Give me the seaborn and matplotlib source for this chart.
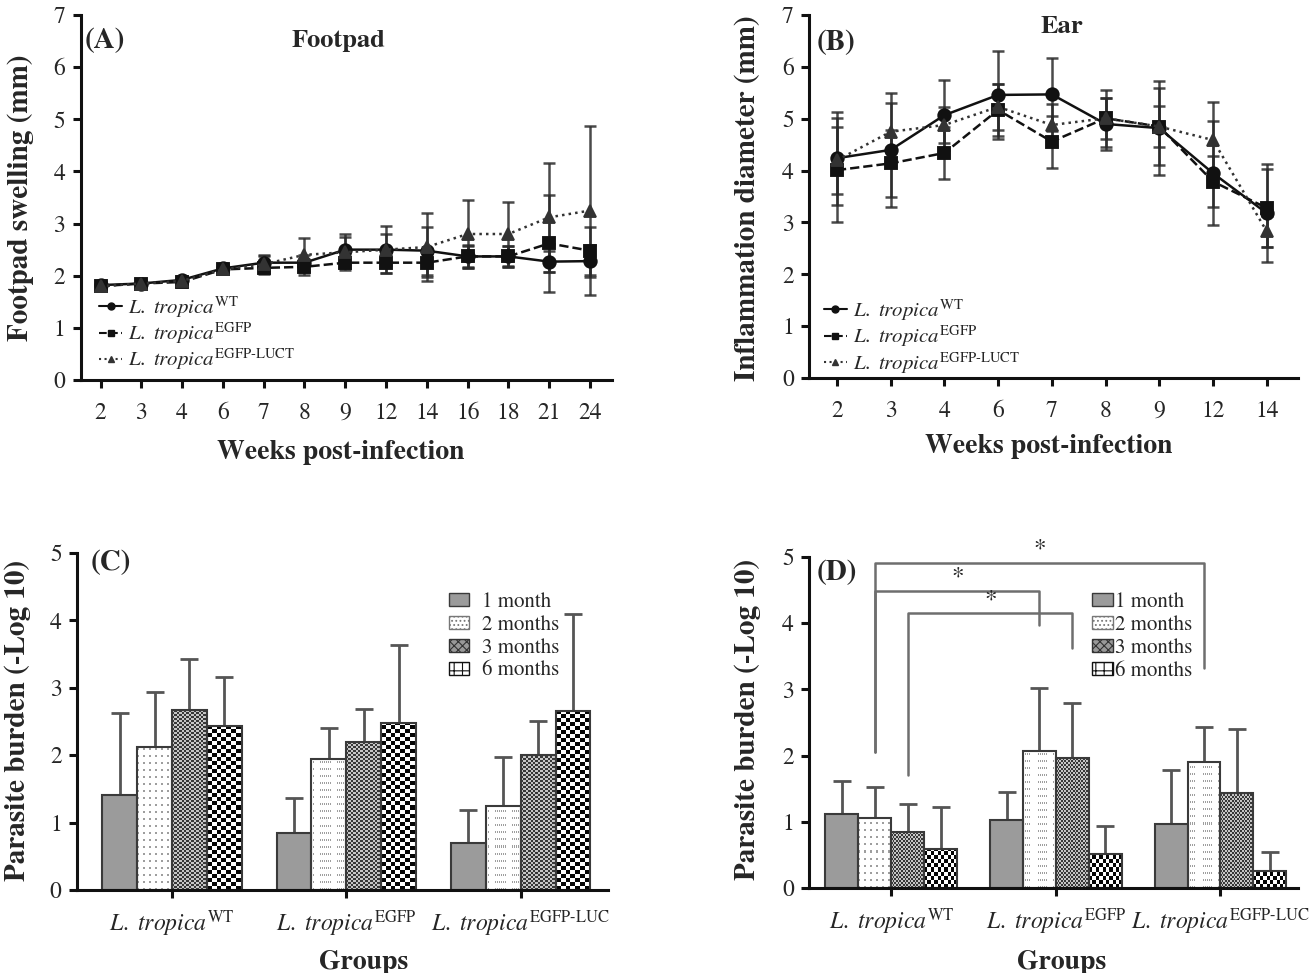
import numpy as np
import pandas as pd
import matplotlib
matplotlib.use('Agg')
import matplotlib.pyplot as plt
import seaborn as sns
from matplotlib.patches import Patch
from matplotlib.lines import Line2D

# ---------------- data ----------------
strains = [r'$\mathit{L.\ tropica}^{\mathrm{WT}}$',
           r'$\mathit{L.\ tropica}^{\mathrm{EGFP}}$',
           r'$\mathit{L.\ tropica}^{\mathrm{EGFP\text{-}LUCT}}$']

# (A) footpad swelling, mean and SD
weeks_a = [2, 3, 4, 6, 7, 8, 9, 12, 14, 16, 18, 21, 24]
fp_wt = [1.82, 1.85, 1.92, 2.14, 2.25, 2.25, 2.50, 2.50, 2.48, 2.37, 2.37, 2.27, 2.28]
fp_wt_sd = [0.06, 0.06, 0.07, 0.08, 0.15, 0.15, 0.30, 0.45, 0.46, 0.20, 0.20, 0.20, 0.30]
fp_egfp = [1.80, 1.85, 1.88, 2.12, 2.15, 2.17, 2.25, 2.25, 2.25, 2.37, 2.37, 2.62, 2.48]
fp_egfp_sd = [0.05, 0.05, 0.06, 0.07, 0.12, 0.15, 0.15, 0.20, 0.27, 0.22, 0.20, 0.93, 0.46]
fp_luct = [1.80, 1.85, 1.90, 2.12, 2.22, 2.40, 2.45, 2.50, 2.55, 2.80, 2.80, 3.12, 3.25]
fp_luct_sd = [0.05, 0.05, 0.06, 0.07, 0.15, 0.32, 0.30, 0.30, 0.65, 0.65, 0.62, 1.05, 1.62]

# (B) ear inflammation diameter
weeks_b = [2, 3, 4, 6, 7, 8, 9, 12, 14]
ear_wt = [4.24, 4.40, 5.07, 5.46, 5.47, 4.90, 4.82, 3.95, 3.18]
ear_wt_sd = [0.90, 1.10, 0.67, 0.85, 0.70, 0.50, 0.90, 1.00, 0.95]
ear_egfp = [4.01, 4.14, 4.34, 5.17, 4.56, 5.01, 4.85, 3.79, 3.28]
ear_egfp_sd = [1.00, 0.65, 0.50, 0.50, 0.50, 0.55, 0.75, 0.50, 0.75]
ear_luct = [4.20, 4.75, 4.88, 5.23, 4.88, 5.01, 4.85, 4.59, 2.83]
ear_luct_sd = [0.65, 0.55, 0.35, 0.45, 0.40, 0.40, 0.40, 0.74, 0.30]

# (C)/(D) parasite burden
groups = [r'$\mathit{L.\ tropica}^{\mathrm{WT}}$',
          r'$\mathit{L.\ tropica}^{\mathrm{EGFP}}$',
          r'$\mathit{L.\ tropica}^{\mathrm{EGFP\text{-}LUC}}$']
periods = ['1 month', '2 months', '3 months', '6 months']

c_vals = {'1 month': [1.41, 0.84, 0.69], '2 months': [2.12, 1.95, 1.25],
          '3 months': [2.67, 2.19, 2.00], '6 months': [2.44, 2.48, 2.65]}
c_err = {'1 month': [1.22, 0.52, 0.49], '2 months': [0.81, 0.46, 0.73],
         '3 months': [0.75, 0.49, 0.50], '6 months': [0.72, 1.15, 1.44]}

d_vals = {'1 month': [1.12, 1.03, 0.97], '2 months': [1.06, 2.07, 1.91],
          '3 months': [0.84, 1.96, 1.43], '6 months': [0.59, 0.52, 0.25]}
d_err = {'1 month': [0.50, 0.42, 0.81], '2 months': [0.47, 0.95, 0.52],
         '3 months': [0.43, 0.83, 0.97], '6 months': [0.63, 0.42, 0.29]}

# significance comparisons in (D): (group a, group b, period)
sig_pairs = [(0, 2, '2 months'), (0, 1, '2 months'), (0, 1, '3 months')]
sig_levels = [4.91, 4.49, 4.15]
sig_drops = [(2.06, 3.32), (2.06, 3.97), (1.71, 3.63)]

# ---------------- style ----------------
sns.set_style('ticks')
plt.rcParams['font.family'] = ['STIXGeneral', 'Liberation Serif', 'DejaVu Serif']
plt.rcParams['mathtext.fontset'] = 'stix'
plt.rcParams['hatch.linewidth'] = 0.8

line_colors = ['#111111', '#111111', '#333333']
err_color = '#2a2a2a'

fig = plt.figure(figsize=(13.14, 9.73), dpi=100)
axA = fig.add_axes([0.0613, 0.6095, 0.4045, 0.375])
axB = fig.add_axes([0.6157, 0.6115, 0.372, 0.373])
axC = fig.add_axes([0.0586, 0.0853, 0.404, 0.3464])
axD = fig.add_axes([0.6157, 0.0874, 0.372, 0.340])


def style_axes(ax):
    sns.despine(ax=ax)
    for s in ['left', 'bottom']:
        ax.spines[s].set_linewidth(2.2)
        ax.spines[s].set_color('#111111')
    ax.tick_params(direction='out', length=6, width=2.2, color='#111111',
                   labelsize=17, pad=5)
    ax.tick_params(axis='x', pad=10)


def line_panel(ax, weeks, means, sds, ylim):
    rows = []
    for s, m in zip(strains, means):
        for w, v in zip(weeks, m):
            rows.append({'week': w, 'strain': s, 'value': v})
    df = pd.DataFrame(rows)
    pos = np.arange(len(weeks))
    for m, sd in zip(means, sds):
        ax.errorbar(pos, m, yerr=sd, fmt='none', ecolor=err_color, elinewidth=1.8,
                    capsize=4.5, capthick=1.8, zorder=2, alpha=0.85)
    sns.pointplot(data=df, x='week', y='value', hue='strain', hue_order=strains,
                  palette=line_colors, markers=['o', 's', '^'],
                  linestyles=['-', '--', ':'], errorbar=None, markersize=9,
                  linewidth=1.8, legend=False, ax=ax)
    handles = [Line2D([], [], color=c, ls=ls, marker=mk, markersize=5, lw=1.5)
               for c, ls, mk in zip(line_colors, ['-', '--', ':'], ['o', 's', '^'])]
    ax.set_ylim(*ylim)
    ax.set_yticks(range(ylim[0], ylim[1] + 1))
    style_axes(ax)
    return handles


# (A)
hA = line_panel(axA, weeks_a, [fp_wt, fp_egfp, fp_luct],
                [fp_wt_sd, fp_egfp_sd, fp_luct_sd], (0, 7))
axA.set_xlim(-0.49, 12.54)
axA.legend(hA, strains, loc='upper left', bbox_to_anchor=(0.035, 0.235),
           frameon=False, fontsize=15, handlelength=1.1, handletextpad=0.3,
           labelspacing=0.05, borderpad=0, borderaxespad=0)
axA.set_xlabel('Weeks post-infection', fontsize=20, fontweight='bold')
axA.set_ylabel('Footpad swelling (mm)', fontsize=21, fontweight='bold')
axA.xaxis.set_label_coords(0.49, -0.165)
axA.yaxis.set_label_coords(-0.087, 0.5)
axA.text(0.486, 0.93, 'Footpad', transform=axA.transAxes, ha='center', va='center',
         fontsize=19, fontweight='bold')
axA.text(0.008, 0.93, '(A)', transform=axA.transAxes, ha='left', va='center',
         fontsize=21, fontweight='bold')

# (B)
hB = line_panel(axB, weeks_b, [ear_wt, ear_egfp, ear_luct],
                [ear_wt_sd, ear_egfp_sd, ear_luct_sd], (0, 7))
axB.set_xlim(-0.52, 8.58)
axB.legend(hB, strains, loc='upper left', bbox_to_anchor=(0.03, 0.222),
           frameon=False, fontsize=15, handlelength=1.1, handletextpad=0.3,
           labelspacing=0.05, borderpad=0, borderaxespad=0)
axB.set_xlabel('Weeks post-infection', fontsize=20, fontweight='bold')
axB.set_ylabel('Inflammation diameter (mm)', fontsize=21, fontweight='bold')
axB.xaxis.set_label_coords(0.49, -0.154)
axB.yaxis.set_label_coords(-0.098, 0.496)
axB.text(0.517, 0.967, 'Ear', transform=axB.transAxes, ha='center', va='center',
         fontsize=19, fontweight='bold')
axB.text(0.016, 0.923, '(B)', transform=axB.transAxes, ha='left', va='center',
         fontsize=21, fontweight='bold')


def fill_pattern(ax, bar, kind):
    x0, y0 = bar.get_x(), bar.get_y()
    x1, y1 = x0 + bar.get_width(), y0 + bar.get_height()
    (px0, py0), (px1, py1) = ax.transData.transform([(x0, y0), (x1, y1)])
    w = max(int(round(px1 - px0)), 1)
    h = max(int(round(py1 - py0)), 1)
    jj, ii = np.meshgrid(np.arange(w), np.arange(h))
    if kind == 'dots':
        g = np.ones((h, w))
        g[((ii % 7) < 2) & ((jj % 6) < 2)] = 0.62
    elif kind == 'fine':
        g = np.where(((ii // 2) + (jj // 2)) % 2 == 1, 0.22, 0.78)
    else:
        g = np.where(((ii // 4) + (jj // 4)) % 2 == 1, 0.02, 1.0)
    img = np.dstack([g, g, g])
    ax.imshow(img, extent=(x0, x1, y0, y1), origin='lower', aspect='auto',
              interpolation='nearest', zorder=0.9)
    bar.set_facecolor('none')


def bar_panel(ax, vals, errs):
    rows = []
    for p in periods:
        for g, v in zip(groups, vals[p]):
            rows.append({'group': g, 'period': p, 'value': v})
    df = pd.DataFrame(rows)
    sns.barplot(data=df, x='group', y='value', hue='period', order=groups,
                hue_order=periods, palette=['#9b9b9b', 'white', '#888888', 'white'],
                edgecolor='#3a3a3a', linewidth=1.5, errorbar=None, legend=False,
                saturation=1, ax=ax)
    ax.set_ylim(0, 5)
    ax.set_yticks(range(0, 6))
    style_axes(ax)
    kinds = [None, 'dots', 'fine', 'check']
    for cont, p, kind in zip(ax.containers, periods, kinds):
        xs = [b.get_x() + b.get_width() / 2 for b in cont]
        tops = [b.get_height() for b in cont]
        eb = ax.errorbar(xs, tops, yerr=[np.zeros(len(xs)), errs[p]], fmt='none',
                         ecolor='#555555', elinewidth=2, capsize=6.5, capthick=2,
                         zorder=0.8)
        eb[1][0].set_visible(False)
        if kind is not None:
            for b in cont:
                fill_pattern(ax, b, kind)
    ax.tick_params(axis='x', labelsize=17, pad=7)
    handles = [Patch(facecolor='#9b9b9b', edgecolor='#3a3a3a', label='1 month'),
               Patch(facecolor='white', edgecolor='#777777', hatch='....', label='2 months'),
               Patch(facecolor='#999999', edgecolor='#333333', hatch='xxxx', label='3 months'),
               Patch(facecolor='white', edgecolor='#111111', hatch='++', label='6 months')]
    return handles


# (C)
hC = bar_panel(axC, c_vals, c_err)
axC.set_xlim(-0.545, 2.5)
axC.set_ylim(0, 5)
axC.legend(handles=hC, loc='upper left', bbox_to_anchor=(0.70, 0.884), frameon=False,
           fontsize=15, handlelength=1.0, handleheight=0.6, handletextpad=0.6,
           labelspacing=0.15, borderpad=0, borderaxespad=0)
axC.set_xlabel('Groups', fontsize=20, fontweight='bold')
axC.set_ylabel('Parasite burden (-Log 10)', fontsize=21, fontweight='bold')
axC.xaxis.set_label_coords(0.54, -0.178)
axC.yaxis.set_label_coords(-0.087, 0.504)
axC.text(0.026, 0.97, '(C)', transform=axC.transAxes, ha='left', va='center',
         fontsize=21, fontweight='bold')

# (D)
hD = bar_panel(axD, d_vals, d_err)
axD.set_xlim(-0.5, 2.47)
axD.set_ylim(0, 5)
axD.legend(handles=hD, loc='upper left', bbox_to_anchor=(0.579, 0.894), frameon=False,
           fontsize=15, handlelength=1.0, handleheight=0.6, handletextpad=0.1,
           labelspacing=0.15, borderpad=0, borderaxespad=0)
axD.set_xlabel('Groups', fontsize=20, fontweight='bold')
axD.set_ylabel('Parasite burden (-Log 10)', fontsize=21, fontweight='bold')
axD.xaxis.set_label_coords(0.517, -0.187)
axD.yaxis.set_label_coords(-0.098, 0.51)
axD.text(0.016, 0.952, '(D)', transform=axD.transAxes, ha='left', va='center',
         fontsize=21, fontweight='bold')

# significance brackets, anchored on bar centres
bar_x = {p: [b.get_x() + b.get_width() / 2 for b in cont]
         for p, cont in zip(periods, axD.containers)}
for (ga, gb, p), lvl, (da, db) in zip(sig_pairs, sig_levels, sig_drops):
    xa, xb = bar_x[p][ga], bar_x[p][gb]
    axD.plot([xa, xa, xb, xb], [da, lvl, lvl, db], color='#6e6e6e', lw=1.8,
             clip_on=False, zorder=3)
    axD.text((xa + xb) / 2, lvl + 0.02, '*', ha='center', va='bottom', fontsize=18,
             clip_on=False)

fig.savefig('out.png', dpi=100)
